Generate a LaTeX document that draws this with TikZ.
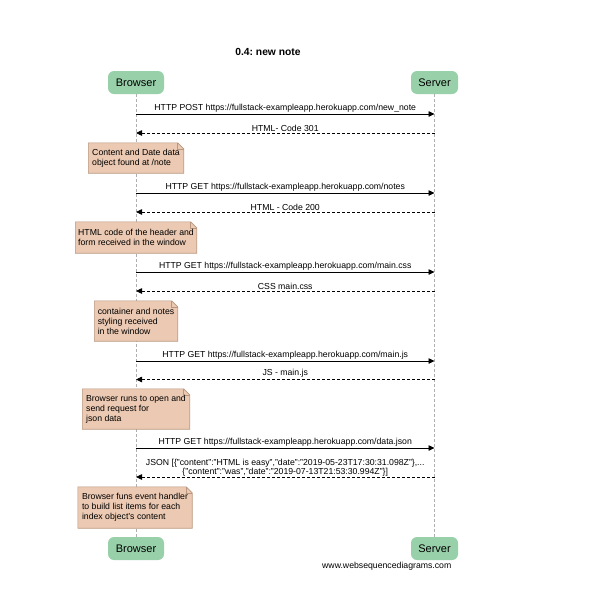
\documentclass[tikz,border=0pt]{standalone}
\usepackage{fontspec}
\setmainfont{Liberation Sans}
\usetikzlibrary{arrows.meta,backgrounds}
\definecolor{actorgreen}{RGB}{152,208,169}
\definecolor{notefill}{RGB}{235,201,178}
\definecolor{noteline}{RGB}{185,150,125}
\definecolor{lifegray}{RGB}{175,175,175}
\newcommand\notebg[1]{%
  \begin{scope}[on background layer]
    \filldraw[fill=notefill,draw=noteline,line width=0.6pt]
      (#1.north west) -- ([xshift=-6pt]#1.north east) -- ([yshift=-6pt]#1.north east)
      -- (#1.south east) -- (#1.south west) -- cycle;
    \draw[noteline,line width=0.5pt] ([xshift=-6pt]#1.north east) |- ([yshift=-6pt]#1.north east);
  \end{scope}}
\begin{document}
\frenchspacing
\begin{tikzpicture}[x=1pt,y=-1pt,
  actor/.style={fill=actorgreen, rounded corners=6pt, minimum height=23pt, inner sep=0pt,
    font=\fontsize{11}{13}\selectfont},
  notebox/.style={inner sep=0pt, align=left, font=\fontsize{8.7}{10}\selectfont},
  msg/.style={line width=0.8pt, -{Triangle[length=6pt,width=5.5pt]}},
  reply/.style={msg, dash pattern=on 3pt off 2pt},
  lbl/.style={midway, above, inner sep=1.5pt, align=center, font=\fontsize{8.7}{9}\selectfont},
  lifeline/.style={lifegray, dash pattern=on 3pt off 2pt, line width=0.6pt}]
\useasboundingbox (0,0) rectangle (589,600);

\node[font=\bfseries\fontsize{10.3}{12}\selectfont] (title) at (268,52) {0.4: new note};

\node[actor, minimum width=56pt] (bt) at (136,82.5) {Browser};
\node[actor, minimum width=47pt] (st) at (434.5,82.5) {Server};
\node[actor, minimum width=56pt] (bb) at (136,548.5) {Browser};
\node[actor, minimum width=47pt] (sb) at (434.5,548.5) {Server};

\begin{scope}[on background layer]
  \draw[lifeline] (bt.south) -- (bb.north);
  \draw[lifeline] (st.south) -- (sb.north);
\end{scope}

% message rows
\coordinate (m1) at (285,114);
\coordinate (m2) at (285,133);
\coordinate (m3) at (285,193);
\coordinate (m4) at (285,212);
\coordinate (m5) at (285,272);
\coordinate (m6) at (285,291);
\coordinate (m7) at (285,361);
\coordinate (m8) at (285,379.5);
\coordinate (m9) at (285,448);
\coordinate (m10) at (285,477);

\draw[msg] (bt |- m1) -- (st |- m1)
  node[lbl] {HTTP POST https://fullstack-exampleapp.herokuapp.com/new\_note};
\draw[reply] (st |- m2) -- (bt |- m2) node[lbl] {HTML- Code 301};

\node[notebox, minimum width=95pt, minimum height=30pt] (n1) at (136,158)
  {Content and Date data\\object found at /note};
\notebg{n1}

\draw[msg] (bt |- m3) -- (st |- m3)
  node[lbl] {HTTP GET https://fullstack-exampleapp.herokuapp.com/notes};
\draw[reply] (st |- m4) -- (bt |- m4) node[lbl] {HTML - Code 200};

\node[notebox, minimum width=121pt, minimum height=31pt] (n2) at (136,237.5)
  {HTML code of the header and\\form received in the window};
\notebg{n2}

\draw[msg] (bt |- m5) -- (st |- m5)
  node[lbl] {HTTP GET https://fullstack-exampleapp.herokuapp.com/main.css};
\draw[reply] (st |- m6) -- (bt |- m6) node[lbl] {CSS main.css};

\node[notebox, minimum width=83pt, minimum height=40pt] (n3) at (136,321)
  {container and notes\\styling received\\in the window};
\notebg{n3}

\draw[msg] (bt |- m7) -- (st |- m7)
  node[lbl] {HTTP GET https://fullstack-exampleapp.herokuapp.com/main.js};
\draw[reply] (st |- m8) -- (bt |- m8) node[lbl] {JS - main.js};

\node[notebox, minimum width=107pt, minimum height=40pt] (n4) at (136,409)
  {Browser runs to open and\\send request for\\json data};
\notebg{n4}

\draw[msg] (bt |- m9) -- (st |- m9)
  node[lbl] {HTTP GET https://fullstack-exampleapp.herokuapp.com/data.json};
\draw[reply] (st |- m10) -- (bt |- m10)
  node[lbl, inner sep=0.5pt] {JSON [\{"content":"HTML is easy","date":"2019-05-23T17:30:31.098Z"\},...\\
  \{"content":"was","date":"2019-07-13T21:53:30.994Z"\}]};

\node[notebox, minimum width=114pt, minimum height=41pt] (n5) at (135,507.5)
  {Browser funs event handler\\to build list items for each\\index object's content};
\notebg{n5}

\node[anchor=west, inner sep=0pt, font=\fontsize{8.7}{10}\selectfont] (foot) at (322,566)
  {www.websequencediagrams.com};
\end{tikzpicture}
\end{document}
